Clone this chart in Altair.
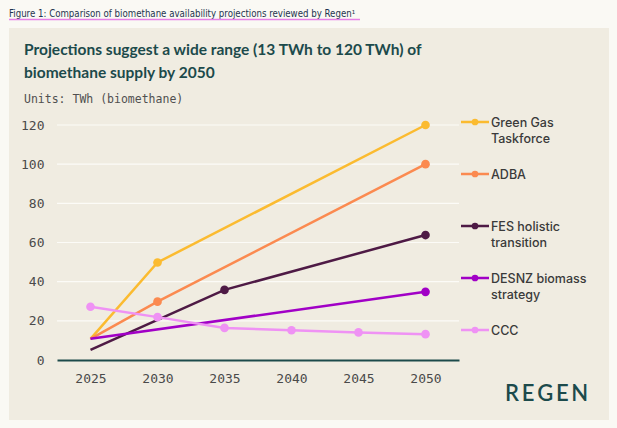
import altair as alt
import pandas as pd

# ---- data ----
years = [2025, 2030, 2035, 2040, 2045, 2050]
series = ["Green Gas Taskforce", "ADBA", "FES holistic transition",
          "DESNZ biomass strategy", "CCC"]
legend_labels = ["Green Gas\nTaskforce", "ADBA", "FES holistic\ntransition",
                 "DESNZ biomass\nstrategy", "CCC"]
ggt = [10.8, 49.8, None, None, None, 120]
adba = [10.8, 29.8, None, None, None, 100]
fes = [5.2, None, 35.8, None, None, 63.8]
desnz = [10.8, None, None, None, None, 34.8]
ccc = [27.2, 21.9, 16.4, 15.2, 14.1, 13.2]
start_marker = [False, False, False, False, True]   # marker drawn at 2025?
y_ticks = [0, 20, 40, 60, 80, 100, 120]

caption = "Figure 1: Comparison of biomethane availability projections reviewed by Regen\u00b9"
title_text = "Projections suggest a wide range (13 TWh to 120 TWh) of\nbiomethane supply by 2050"
subtitle = "Units: TWh (biomethane)"
logo = "R\u2009E\u2009G\u2009E\u2009N"

# ---- styles ----
colors = ["#fbbb30", "#fb8a50", "#4e1a45", "#a100c6", "#ef92f4"]
TEAL = "#1c4a4b"
MONO = "DejaVu Sans Mono"
SANS = "Inter"

rows = []
for name, vals, sm in zip(series, [ggt, adba, fes, desnz, ccc], start_marker):
    for i, (yr, v) in enumerate(zip(years, vals)):
        if v is None:
            continue
        rows.append({"series": name, "year": yr, "value": v,
                     "marker": (i > 0) or sm})
df = pd.DataFrame(rows)
leg = pd.DataFrame({"series": series, "label": legend_labels})
grid_df = pd.DataFrame({"v": y_ticks[1:]})

color = alt.Color("series:N", scale=alt.Scale(domain=series, range=colors), legend=None)
xenc = alt.X("year:O", scale=alt.Scale(type="point", padding=0.5, domain=years),
             axis=alt.Axis(labelAngle=0, title=None, ticks=False, domain=True,
                           domainColor=TEAL, domainWidth=2, labelFont=MONO,
                           labelFontSize=13, labelColor="#4a4a4a", labelPadding=12,
                           grid=False, zindex=1))
yscale = alt.Scale(domain=[0, 120], nice=False)
yaxis = alt.Axis(values=y_ticks, title=None, ticks=False, domain=False,
                 grid=False, labelFont=MONO, labelFontSize=13,
                 labelColor="#4a4a4a", labelPadding=13, zindex=1)

grid = alt.Chart(grid_df).mark_rule(color="#fcfbf7", strokeWidth=1.2).encode(
    y=alt.Y("v:Q", scale=yscale, axis=yaxis, title=None),
    x=alt.value(0), x2=alt.value(402))
lines = alt.Chart(df).mark_line(strokeWidth=2.5).encode(
    x=xenc, y=alt.Y("value:Q", scale=yscale, axis=yaxis, title=None),
    color=color, order="year:O")
points = alt.Chart(df).transform_filter("datum.marker").mark_point(
    filled=True, size=75, opacity=1).encode(
    x=xenc, y=alt.Y("value:Q", scale=yscale, axis=yaxis, title=None), color=color)
main = alt.layer(grid, lines, points)

ly = alt.Y("series:N", scale=alt.Scale(type="point", padding=0, domain=series,
                                       range=[-3, 205]), axis=None)
leg_rule = alt.Chart(leg).mark_rule(strokeWidth=2.5).encode(
    x=alt.value(404), x2=alt.value(432), y=ly, color=color)
leg_pt = alt.Chart(leg).mark_point(filled=True, size=45, opacity=1).encode(
    x=alt.value(418), y=ly, color=color)
leg_text = alt.Chart(leg).mark_text(
    align="left", baseline="alphabetic", dy=4.5, lineBreak="\n", lineHeight=16,
    font=SANS, fontSize=12.5, fontWeight=500, color="#3a3a3a").encode(
    x=alt.value(434), y=ly, text="label:N")
legend = alt.layer(leg_rule, leg_pt, leg_text)

one = pd.DataFrame({"t": [0]})
panel = alt.Chart(one).mark_rect(color="#f0ece1").encode(
    x=alt.value(-48), x2=alt.value(552), y=alt.value(-97), y2=alt.value(295))
cap = alt.Chart(pd.DataFrame({"t": [caption]})).mark_text(
    align="left", baseline="alphabetic",
    font="DejaVu Sans Condensed, Liberation Sans", fontSize=9.6,
    color="#1e3550").encode(x=alt.value(-48), y=alt.value(-108.5), text="t:N")
underline = alt.Chart(one).mark_rule(color="#e67fe6", strokeWidth=1.3).encode(
    x=alt.value(-48), x2=alt.value(303), y=alt.value(-105.5))
ttl = alt.Chart(pd.DataFrame({"t": [title_text]})).mark_text(
    align="left", baseline="alphabetic", lineBreak="\n", lineHeight=23, font="Lato",
    fontSize=15.5, fontWeight=700, color=TEAL).encode(
    x=alt.value(-33), y=alt.value(-70), text="t:N")
sub = alt.Chart(pd.DataFrame({"t": [subtitle]})).mark_text(
    align="left", baseline="alphabetic", font=MONO, fontSize=11.5,
    color="#505050").encode(x=alt.value(-33), y=alt.value(-22), text="t:N")
lg = alt.Chart(pd.DataFrame({"t": [logo]})).mark_text(
    align="left", baseline="alphabetic", font="Lato", fontSize=22, fontWeight=600,
    color=TEAL).encode(x=alt.value(448), y=alt.value(276), text="t:N")

chart = alt.layer(panel, cap, underline, ttl, sub, main, legend, lg).resolve_scale(
    y="independent").properties(
    width=402, height=235,
    autosize=alt.AutoSizeParams(type="none"),
    padding={"left": 57, "top": 125, "right": 158, "bottom": 68},
    background="#faf9f4",
).configure_view(stroke=None)

chart.save("out.html", embed_options={"renderer": "svg", "actions": False})
